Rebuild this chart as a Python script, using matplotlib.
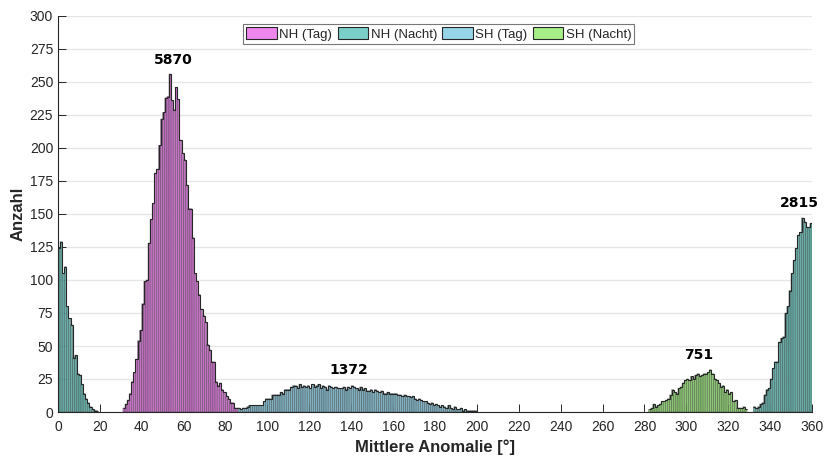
import numpy as np
import matplotlib
matplotlib.use("Agg")
import matplotlib.pyplot as plt
from matplotlib.colors import to_rgb
from matplotlib.patches import Patch

# histogram counts per 1-degree bin
nh_night_a_start = 0
nh_night_a = [124, 129, 105, 110, 80, 71, 66, 41, 43, 29, 28, 21, 14, 10, 7, 4, 2, 1, 1]

nh_day_start = 31
nh_day = [3, 6, 9, 14, 23, 30, 40, 54, 62, 82,
          99, 100, 128, 146, 158, 181, 184, 202, 222, 227,
          238, 239, 256, 236, 229, 246, 237, 206, 196, 191,
          172, 154, 154, 132, 105, 99, 89, 78, 73, 68,
          51, 47, 38, 38, 23, 20, 22, 17, 15, 12, 10, 7, 7, 3, 3]

sh_day_start = 86
sh_day = [3, 2, 3, 3, 4, 5, 5, 5, 5, 5, 5, 5,
          8, 10, 10, 10, 13, 13, 13, 13, 15, 14,
          17, 17, 17, 19, 20, 20, 18, 21, 19, 20,
          19, 20, 18, 21, 19, 20, 21, 18, 20, 19,
          17, 20, 19, 18, 19, 18, 18, 18, 19, 17,
          19, 18, 20, 19, 18, 17, 19, 17, 18, 16,
          16, 17, 15, 17, 16, 15, 16, 14, 14, 15,
          14, 14, 14, 14, 13, 13, 12, 13, 12, 12,
          11, 12, 10, 9, 10, 9, 8, 8, 7, 6,
          7, 5, 6, 5, 4, 5, 4, 3, 5, 3,
          2, 4, 2, 2, 3, 1, 2, 1, 1, 1, 1, 1]

sh_night_start = 282
sh_night = [2, 3, 6, 4, 5, 6, 8, 8, 9, 10,
            13, 17, 15, 14, 18, 19, 22, 24, 25, 24,
            27, 25, 28, 29, 27, 28, 29, 29, 30, 32,
            29, 25, 24, 22, 19, 20, 15, 17, 14, 15,
            8, 9, 3, 3, 3, 4, 2]

nh_night_b_start = 332
nh_night_b = [4, 3, 4, 6, 7, 13, 17, 18, 25, 33,
              38, 38, 53, 56, 57, 75, 80, 92, 105, 115,
              124, 134, 136, 147, 144, 140, 140, 143]

labels = ["NH (Tag)", "NH (Nacht)", "SH (Tag)", "SH (Nacht)"]
totals = [5870, 2815, 1372, 751]
total_x = [55, 354, 139, 306]

colors = ["#EE86EE", "#7AD0C8", "#96D4E8", "#A6EF88"]
edge = "#262626"
txt = "#262626"

plt.rcParams["font.family"] = ["Liberation Sans", "DejaVu Sans"]

fig = plt.figure(figsize=(8.24, 4.59), dpi=100)
ax = fig.add_axes([58 / 824, 1 - 412 / 459, 754 / 824, 396 / 459])


def shade(c, k=0.2):
    # thin bars with dark outlines read darker than the legend swatch
    c = np.array(to_rgb(c))
    d = np.array(to_rgb(edge))
    return tuple(c * (1 - k) + d * k)


def draw(start, vals, color):
    x = np.arange(start, start + len(vals))
    ax.bar(x, vals, width=1.0, align="edge", color=shade(color),
           edgecolor=(0.15, 0.15, 0.15, 0.5), linewidth=0.45, zorder=2,
           snap=False)
    ax.stairs(vals, np.arange(start, start + len(vals) + 1), color=edge,
              linewidth=0.8, zorder=3, baseline=None)


draw(nh_night_a_start, nh_night_a, colors[1])
draw(nh_day_start, nh_day, colors[0])
draw(sh_day_start, sh_day, colors[2])
draw(sh_night_start, sh_night, colors[3])
draw(nh_night_b_start, nh_night_b, colors[1])

peaks = [max(nh_day), max(nh_night_b), max(sh_day), max(sh_night)]
for xt, tot, pk in zip(total_x, totals, peaks):
    ax.text(xt, pk + 11, str(tot), ha="center", va="center",
            fontsize=10, fontweight="bold", family="DejaVu Sans", color="black")

ax.set_xlim(0, 360)
ax.set_ylim(0, 300)
ax.set_xticks(np.arange(0, 361, 20))
ax.set_yticks(np.arange(0, 301, 25))
ax.yaxis.grid(True, color="#E6E6E6", linewidth=1.0)
ax.set_axisbelow(True)
for s in ["top", "right"]:
    ax.spines[s].set_visible(False)
for s in ["left", "bottom"]:
    ax.spines[s].set_color(edge)
    ax.spines[s].set_linewidth(0.8)
    ax.spines[s].set_zorder(4)
ax.tick_params(direction="in", length=5.5, width=0.7, colors=edge,
               labelsize=10, labelcolor=txt)
ax.tick_params(axis="x", pad=6)

ax.set_xlabel("Mittlere Anomalie [°]", fontsize=12, fontweight="bold",
              color=txt, labelpad=4)
ax.set_ylabel("Anzahl", fontsize=12, fontweight="bold", color=txt, labelpad=3)

handles = [Patch(facecolor=c, edgecolor=edge, linewidth=0.8) for c in colors]
leg = ax.legend(handles, labels, loc="upper center", bbox_to_anchor=(0.505, 0.98),
                ncol=4, fontsize=9.5, frameon=True, fancybox=False,
                handlelength=2.3, handleheight=1.0, handletextpad=0.2,
                columnspacing=0.4, borderpad=0.25, borderaxespad=0.0)
leg.get_frame().set_edgecolor("#555555")
leg.get_frame().set_linewidth(0.8)
for t in leg.get_texts():
    t.set_color(txt)

fig.savefig("out.png", dpi=100)
